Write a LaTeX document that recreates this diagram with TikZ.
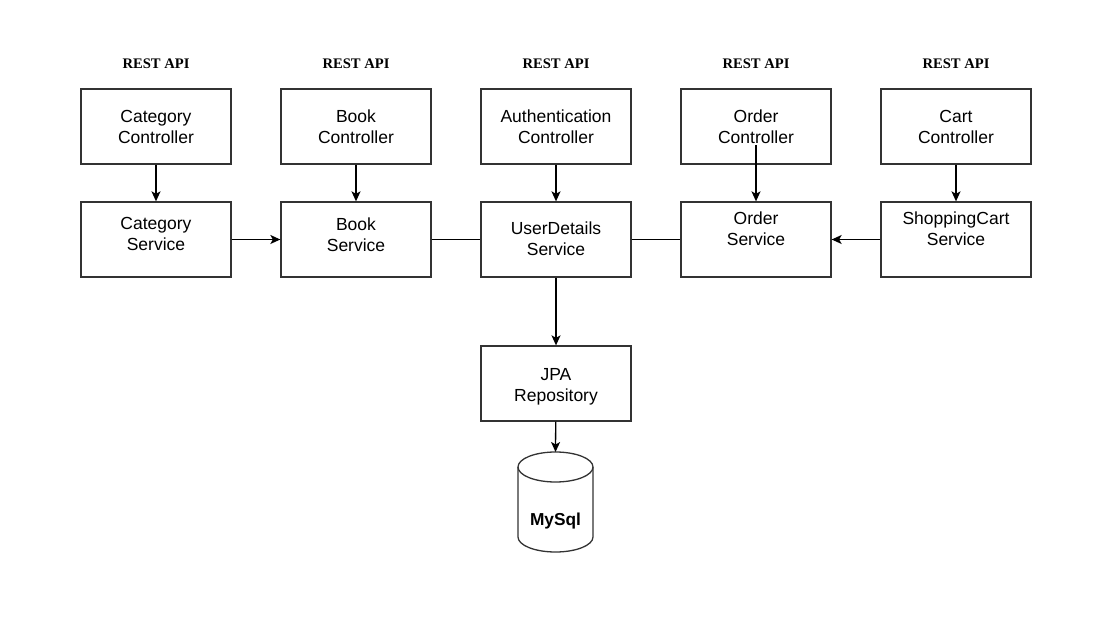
\documentclass[tikz,border=0pt]{standalone}
\usepackage{fontspec}
\setmainfont{Liberation Sans}
\newfontfamily\serifb{Liberation Serif}
\usetikzlibrary{arrows.meta}
\begin{document}
\begin{tikzpicture}[x=1pt,y=-1pt,
  box/.style={draw=black!80,line width=1.3pt,fill=white,minimum width=150pt,minimum height=75pt,inner sep=0pt,align=center,font=\fontsize{17.5}{21}\selectfont},
  txt/.style={inner sep=0pt,align=center,font=\fontsize{17.5}{21}\selectfont,execute at begin node=\strut,execute at end node=\strut},
  api/.style={inner sep=0pt,font=\serifb\bfseries\fontsize{14.6}{17}\selectfont},
  conn/.style={line width=1.3pt,black},
  arr/.style={conn,-{Stealth[length=10pt,width=9pt,inset=2.5pt]}}]
\useasboundingbox (0,0) rectangle (1110,617);
% REST API labels
\node[api] (api1) at (156,63.5) {REST API};
\node[api] (api2) at (356,63.5) {REST API};
\node[api] (api3) at (556,63.5) {REST API};
\node[api] (api4) at (756,63.5) {REST API};
\node[api] (api5) at (956,63.5) {REST API};
% controllers
\node[box] (cc) at (156,126.5) {Category\\Controller};
\node[box] (bc) at (356,126.5) {Book\\Controller};
\node[box] (ac) at (556,126.5) {Authentication\\Controller};
\node[box] (oc) at (756,126.5) {Order\\Controller};
\node[box] (kc) at (956,126.5) {Cart\\Controller};
% services
\node[box] (cs) at (156,239.5) {};
\node[txt] (cstxt) at (156,237.5) {Category\\Service};
\node[box] (bs) at (356,239.5) {};
\node[txt] (bstxt) at (356,238) {Book\\Service};
\node[box] (us) at (556,239.5) {};
\node[txt] (ustxt) at (556,242) {UserDetails\\Service};
\node[box] (os) at (756,239.5) {};
\node[txt] (ostxt) at (756,232) {Order\\Service};
\node[box] (ss) at (956,239.5) {};
\node[txt] (sstxt) at (956,232) {ShoppingCart\\Service};
% repository
\node[box] (jpa) at (556,383.5) {};
\node[txt] (jpatxt) at (556,388.5) {JPA\\Repository};
% database cylinder
\coordinate (dbtop) at (555.5,452);
\draw[draw=black!80,line width=1.3pt,fill=white] (518,467) -- (518,537) arc[start angle=180,end angle=360,x radius=37.5pt,y radius=15pt] -- (593,467);
\draw[draw=black!80,line width=1.3pt] (555.5,467) ellipse [x radius=37.5pt,y radius=15pt];
\node[inner sep=0pt,font=\bfseries\fontsize{17.3}{21}\selectfont] (db) at (555.5,521) {MySql};
% connectors
\draw[arr] (cc) -- (cs);
\draw[arr] (bc) -- (bs);
\draw[arr] (ac) -- (us);
\coordinate (ocstart) at (756,145);
\draw[arr] (ocstart) -- (os.north);
\draw[arr] (kc) -- (ss);
\draw[arr] (cs) -- (bs);
\draw[conn] (bs) -- (us);
\draw[conn] (us) -- (os);
\draw[arr] (ss) -- (os);
\draw[arr] (us) -- (jpa);
\draw[arr] (jpa) -- (dbtop);
\end{tikzpicture}
\end{document}
